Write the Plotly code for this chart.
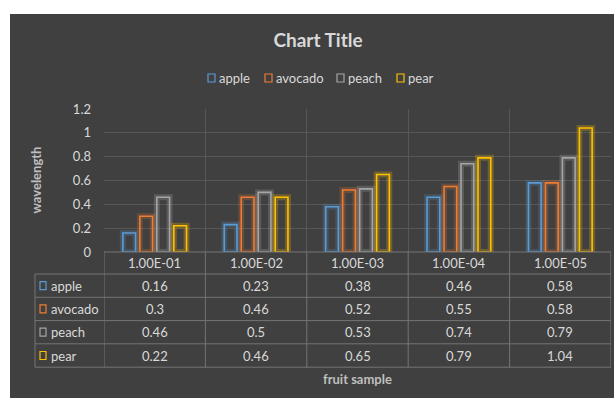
import plotly.graph_objects as go

# ---- data ----
samples = ["1.00E-01", "1.00E-02", "1.00E-03", "1.00E-04", "1.00E-05"]
series_names = ["apple", "avocado", "peach", "pear"]
apple = [0.16, 0.23, 0.38, 0.46, 0.58]
avocado = [0.30, 0.46, 0.52, 0.55, 0.58]
peach = [0.46, 0.50, 0.53, 0.74, 0.79]
pear = [0.22, 0.46, 0.65, 0.79, 1.04]
y_ticks = [0, 0.2, 0.4, 0.6, 0.8, 1.0, 1.2]

series_values = [apple, avocado, peach, pear]
colors = ["#5B9BD5", "#ED7D31", "#A5A5A5", "#FFC000"]
glows = ["rgba(91,155,213,0.22)", "rgba(237,125,49,0.22)",
         "rgba(200,200,200,0.20)", "rgba(255,192,0,0.25)"]

W, H = 614, 398
L, R, T, B = 104, 3, 109, 146
PW, PH = W - L - R, H - T - B
BG = "#404040"
TXT = "#d9d9d9"
GRID = "#575757"
TABLE = "#747474"
FONT = "Lato"


def px_x(px):
    return (px - L) / PW


def px_y(py):
    return (H - B - py) / PH


fig = go.Figure()

# soft halo behind each outlined bar, then the outline itself
for name, vals, col, glow in zip(series_names, series_values, colors, glows):
    fig.add_trace(go.Bar(
        x=samples, y=vals, offsetgroup=name, showlegend=False, hoverinfo="skip",
        marker=dict(color="rgba(0,0,0,0)", line=dict(color=glow, width=6)),
    ))
    fig.add_trace(go.Bar(
        x=samples, y=vals, name=name, offsetgroup=name, showlegend=False,
        marker=dict(color="rgba(0,0,0,0)", line=dict(color=col, width=1.6)),
    ))

shapes = []
annotations = []

# white frame strips around the dark chart area
shapes.append(dict(type="rect", xref="paper", yref="paper", layer="below",
                   x0=px_x(-2), x1=px_x(10), y0=px_y(H + 2), y1=px_y(-2),
                   fillcolor="white", line=dict(width=0)))
shapes.append(dict(type="rect", xref="paper", yref="paper", layer="below",
                   x0=px_x(-2), x1=px_x(W + 2), y0=px_y(14), y1=px_y(-2),
                   fillcolor="white", line=dict(width=0)))

# ---- data table under the plot ----
row_edges = [252, 274, 297.3, 320.6, 343.8, 367.2]
table_left = 35
n = len(samples)
line = dict(color=TABLE, width=1)

# horizontal rules
shapes.append(dict(type="line", xref="x", yref="paper", x0=-0.5, x1=n - 0.5,
                   y0=px_y(row_edges[0]), y1=px_y(row_edges[0]), line=line))
for ry in row_edges[1:]:
    shapes.append(dict(type="line", xref="paper", yref="paper",
                       x0=px_x(table_left), x1=1, y0=px_y(ry), y1=px_y(ry), line=line))
# vertical rules
shapes.append(dict(type="line", xref="paper", yref="paper",
                   x0=px_x(table_left), x1=px_x(table_left),
                   y0=px_y(row_edges[1]), y1=px_y(row_edges[-1]), line=line))
for i in range(n + 1):
    shapes.append(dict(type="line", xref="x", yref="paper", x0=i - 0.5, x1=i - 0.5,
                       y0=px_y(row_edges[0]), y1=px_y(row_edges[-1]), line=line))

cell_font = dict(family=FONT, size=13, color=TXT)
# header: sample labels (positioned by category index)
hy = px_y((row_edges[0] + row_edges[1]) / 2)
for i, s in enumerate(samples):
    annotations.append(dict(x=i, y=hy, xref="x", yref="paper", text=s,
                            showarrow=False, font=cell_font,
                            xanchor="center", yanchor="middle"))
# body rows: series key + values
for r, (name, vals, col) in enumerate(zip(series_names, series_values, colors)):
    cy_px = (row_edges[r + 1] + row_edges[r + 2]) / 2
    cy = px_y(cy_px)
    shapes.append(dict(type="rect", xref="paper", yref="paper",
                       x0=px_x(40), x1=px_x(46), y0=px_y(cy_px + 4), y1=px_y(cy_px - 4),
                       line=dict(color=col, width=1.2), fillcolor="rgba(0,0,0,0)"))
    annotations.append(dict(x=px_x(49), y=cy, xref="paper", yref="paper", text=name,
                            showarrow=False, font=cell_font,
                            xanchor="left", yanchor="middle"))
    for i, v in enumerate(vals):
        annotations.append(dict(x=i, y=cy, xref="x", yref="paper", text=f"{v:g}",
                                showarrow=False, font=cell_font,
                                xanchor="center", yanchor="middle"))

# ---- legend row above the plot ----
legend_y = 78
legend_x = [208, 265, 337, 397]
for name, col, lx in zip(series_names, colors, legend_x):
    shapes.append(dict(type="rect", xref="paper", yref="paper",
                       x0=px_x(lx), x1=px_x(lx + 7),
                       y0=px_y(legend_y + 4), y1=px_y(legend_y - 4),
                       line=dict(color=col, width=1.2), fillcolor="rgba(0,0,0,0)"))
    annotations.append(dict(x=px_x(lx + 9), y=px_y(legend_y), xref="paper", yref="paper",
                            text=name, showarrow=False, font=cell_font,
                            xanchor="left", yanchor="middle"))

# axis titles
annotations.append(dict(x=px_x(35), y=0.5, xref="paper", yref="paper",
                        text="<b>wavelength</b>", textangle=-90, showarrow=False,
                        font=dict(family=FONT, size=13, color="#bfbfbf"),
                        xanchor="center", yanchor="middle"))
annotations.append(dict(x=0.5, y=px_y(379), xref="paper", yref="paper",
                        text="<b>fruit sample</b>", showarrow=False,
                        font=dict(family=FONT, size=13, color="#bfbfbf"),
                        xanchor="center", yanchor="middle"))

fig.update_layout(
    width=W, height=H,
    margin=dict(l=L, r=R, t=T, b=B),
    paper_bgcolor=BG, plot_bgcolor=BG,
    barmode="group", bargap=0.33, bargroupgap=0.25,
    title=dict(text="<b>Chart Title</b>", x=318 / W, xref="container", xanchor="center",
               y=1 - 40 / H, yref="container", yanchor="middle",
               font=dict(family=FONT, size=19, color=TXT)),
    font=dict(family=FONT, size=13, color=TXT),
    showlegend=False,
    shapes=shapes,
    annotations=annotations,
)
fig.update_xaxes(type="category", showticklabels=False, showgrid=True, gridcolor=GRID,
                 tickson="boundaries", showline=False, zeroline=False, ticks="",
                 range=[-0.5, n - 0.5])
fig.update_yaxes(range=[0, 1.2], tickvals=y_ticks, ticktext=[f"{t:g}" for t in y_ticks],
                 showgrid=True, gridcolor=GRID, zeroline=False, showline=False,
                 ticklabelstandoff=12, tickfont=dict(family=FONT, size=13, color=TXT))

fig.write_html("out.html")
